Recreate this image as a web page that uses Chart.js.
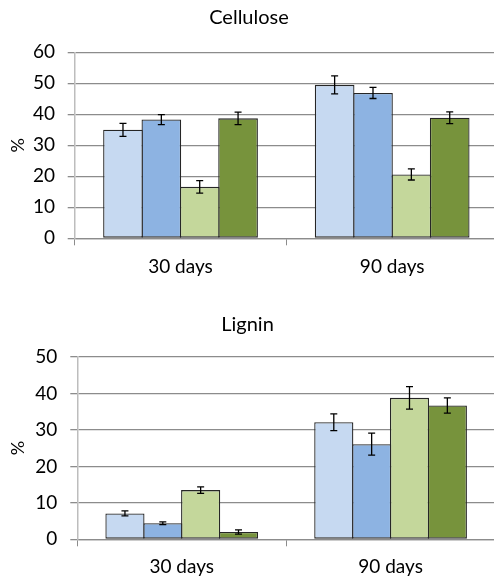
<!DOCTYPE html>
<html>
<head>
<meta charset="utf-8">
<script src="https://cdn.jsdelivr.net/npm/chart.js@4.4.0/dist/chart.umd.min.js"></script>
<style>
  html, body { margin: 0; padding: 0; background: #fff; overflow: hidden; }
  .panel { position: absolute; left: 0; width: 500px; }
</style>
</head>
<body>
<div class="panel" style="top:0; height:290px;"><canvas id="cellChart" width="500" height="290"></canvas></div>
<div class="panel" style="top:290px; height:291px;"><canvas id="ligChart" width="500" height="291"></canvas></div>
<script>
// categories and series
const categories = ['30 days', '90 days'];
const seriesNames = ['Series 1', 'Series 2', 'Series 3', 'Series 4'];
const seriesColors = ['#c6d9f1', '#8db3e2', '#c4d79b', '#77933c'];

const celluloseValues = [[35.0, 49.5], [38.3, 46.9], [16.6, 20.6], [38.7, 38.9]];
const celluloseErrors = [[2.1, 2.9], [1.6, 1.8], [2.0, 1.8], [2.0, 1.9]];
const celluloseTicks = [0, 10, 20, 30, 40, 50, 60];

const ligninValues = [[7.1, 32.1], [4.4, 26.1], [13.5, 38.8], [2.0, 36.7]];
const ligninErrors = [[0.7, 2.3], [0.4, 3.0], [0.9, 3.1], [0.6, 2.1]];
const ligninTicks = [0, 10, 20, 30, 40, 50];

const FONT = 'Lato, "Open Sans", sans-serif';

// draws the error bars on top of each bar
const errorBarPlugin = {
  id: 'errorBars',
  afterDatasetsDraw(chart) {
    const ctx = chart.ctx;
    const yScale = chart.scales.y;
    ctx.save();
    ctx.strokeStyle = '#000';
    ctx.lineWidth = 1.3;
    chart.data.datasets.forEach((ds, i) => {
      const meta = chart.getDatasetMeta(i);
      meta.data.forEach((bar, j) => {
        const v = ds.data[j];
        const e = ds.errors[j];
        const yHi = yScale.getPixelForValue(v + e);
        const yLo = yScale.getPixelForValue(v - e);
        const cap = 3.5;
        ctx.beginPath();
        ctx.moveTo(bar.x, yHi);
        ctx.lineTo(bar.x, yLo);
        ctx.moveTo(bar.x - cap, yHi);
        ctx.lineTo(bar.x + cap, yHi);
        ctx.moveTo(bar.x - cap, yLo);
        ctx.lineTo(bar.x + cap, yLo);
        ctx.stroke();
      });
    });
    ctx.restore();
  }
};

function makeChart(id, title, values, errors, ticks, cfg) {
  const ctx = document.getElementById(id).getContext('2d');
  return new Chart(ctx, {
    type: 'bar',
    data: {
      labels: categories,
      datasets: values.map((vals, i) => ({
        label: seriesNames[i],
        data: vals,
        errors: errors[i],
        backgroundColor: seriesColors[i],
        borderColor: '#262626',
        borderWidth: 1.3,
        borderSkipped: false,
        categoryPercentage: 0.725,
        barPercentage: 1.034   // slight overlap so neighbouring bars share one edge
      }))
    },
    options: {
      responsive: false,
      animation: false,
      layout: { padding: { left: 0, right: cfg.padRight, top: 0, bottom: 0 } },
      plugins: {
        legend: { display: false },
        tooltip: { enabled: false },
        title: {
          display: true,
          text: title,
          color: '#000',
          font: { family: FONT, size: 20, weight: 'normal' },
          padding: { top: cfg.titleTop, bottom: cfg.titleBottom }
        }
      },
      scales: {
        x: {
          afterFit: (s) => { s.height = cfg.xHeight; },
          grid: {
            display: true,
            drawOnChartArea: false,
            drawTicks: true,
            tickLength: 7,
            offset: true,
            color: '#8c8c8c'
          },
          border: { display: true, color: '#8c8c8c', width: 1.3 },
          ticks: {
            color: '#000',
            padding: cfg.xPad,
            font: { family: FONT, size: 19 }
          }
        },
        y: {
          min: ticks[0],
          max: ticks[ticks.length - 1],
          afterFit: (s) => { s.width = cfg.yWidth; },
          afterBuildTicks: (s) => { s.ticks = ticks.map(v => ({ value: v })); },
          grid: {
            color: '#8c8c8c',
            lineWidth: 1.3,
            drawTicks: true,
            tickLength: 7
          },
          border: { display: true, color: '#bdbdbd', width: 1.5 },
          ticks: {
            color: '#000',
            padding: cfg.yPad,
            font: { family: FONT, size: 19 }
          },
          title: {
            display: true,
            text: '%',
            color: '#000',
            font: { family: FONT, size: 18 },
            padding: { top: 7, bottom: 0 }
          }
        }
      }
    },
    plugins: [errorBarPlugin]
  });
}

makeChart('cellChart', 'Cellulose', celluloseValues, celluloseErrors, celluloseTicks, {
  padRight: 2, titleTop: 6, titleBottom: 22.3, xHeight: 51.7, xPad: 10.5, yWidth: 74.7, yPad: 12.7
});

makeChart('ligChart', 'Lignin', ligninValues, ligninErrors, ligninTicks, {
  padRight: 5, titleTop: 23, titleBottom: 20, xHeight: 41.7, xPad: 9.5, yWidth: 77.3, yPad: 13
});
</script>
</body>
</html>
